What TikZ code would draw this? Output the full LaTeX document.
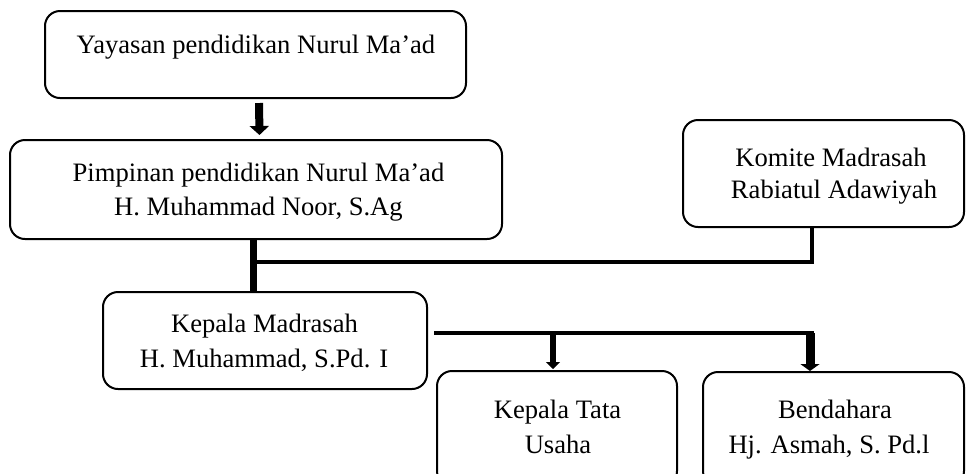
\documentclass[tikz,border=0pt]{standalone}
\usepackage{fontspec}
\setmainfont{Liberation Serif}
\usetikzlibrary{arrows.meta,calc}
\begin{document}
\begin{tikzpicture}[x=0.5pt,y=-0.5pt,
  orgbox/.style={draw,line width=1pt,rounded corners=7.5pt,rectangle,inner sep=0pt},
  lbl/.style={inner sep=0pt,anchor=base,font=\fontsize{13.3}{17}\selectfont},
  conn/.style={line width=2pt},
]
\useasboundingbox (0,0) rectangle (969,473);
\clip (0,0) rectangle (969,473);
% boxes
\node[orgbox,minimum width=210.5pt,minimum height=43.5pt] (yay) at (255.5,54.5) {};
\node[orgbox,minimum width=246pt,minimum height=49.5pt] (pim) at (256,189.5) {};
\node[orgbox,minimum width=140.5pt,minimum height=53.5pt] (kom) at (823.5,173.5) {};
\node[orgbox,minimum width=162pt,minimum height=48.5pt] (kep) at (265,340.5) {};
\node[orgbox,minimum width=120pt,minimum height=57.5pt] (tu) at (557,428.5) {};
\node[orgbox,minimum width=130.5pt,minimum height=57pt] (ben) at (833.5,429) {};
% texts
\node[lbl] (yayt) at (256,53) {Yayasan pendidikan Nurul Ma’ad};
\node[lbl] (pimt1) at (258.5,181) {Pimpinan pendidikan Nurul Ma’ad};
\node[lbl] (pimt2) at (258.5,215) {H. Muhammad Noor, S.Ag};
\node[lbl] (komt1) at (831,166) {Komite Madrasah};
\node[lbl] (komt2) at (834,198) {Rabiatul Adawiyah};
\node[lbl] (kept1) at (264.5,332) {Kepala Madrasah};
\node[lbl] (kept2) at (264,367) {H. Muhammad, S.Pd. I};
\node[lbl] (tut1) at (557.5,418) {Kepala Tata};
\node[lbl] (tut2) at (558,453) {Usaha};
\node[lbl] (bent1) at (835,418) {Bendahara};
\node[lbl] (bent2) at (829,453) {Hj. Asmah, S. Pd.l};
% junctions
\coordinate (j1) at (253,262);
\coordinate (j2) at (812,262);
\coordinate (j3) at (434,333);
\coordinate (j4) at (814,333);
% connectors
\draw[line width=4pt,-{Triangle[width=9.5pt,length=4.5pt]},shorten <=2pt,shorten >=2pt]
  ([xshift=1.75pt]yay.south) -- ([xshift=1.75pt]pim.north);
\draw[line width=3.5pt] ([xshift=-1.5pt]pim.south) -- ([xshift=-1.5pt]pim.south |- kep.north);
\draw[conn,line cap=rect] (j1) -- (j2);
\draw[conn] ([xshift=-5.75pt]kom.south) -- (j2);
\draw[conn] (j3) -- (j4);
\draw[line width=3pt,-{Triangle[width=7pt,length=3.5pt]},shorten >=0.5pt]
  (j3 -| 553,0) -- ([xshift=-2pt]tu.north);
\draw[line width=4.5pt,-{Triangle[width=9.5pt,length=3.5pt]}]
  (j4 -| 810,0) -- ([xshift=-11.75pt]ben.north);
\end{tikzpicture}
\end{document}
